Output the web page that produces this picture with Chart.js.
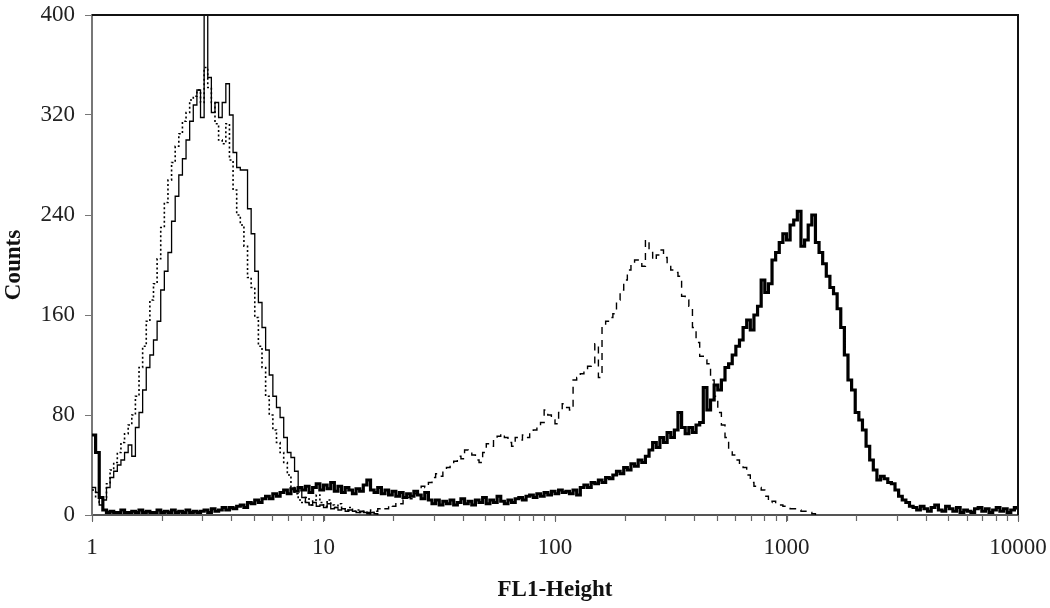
<!DOCTYPE html>
<html>
<head>
<meta charset="utf-8">
<script src="https://cdn.jsdelivr.net/npm/chart.js@4.4.0/dist/chart.umd.min.js"></script>
<style>
  html, body { margin: 0; padding: 0; background: #fff; }
  #wrap { width: 1050px; height: 608px; }
</style>
</head>
<body>
<div id="wrap"><canvas id="myChart"></canvas></div>
<script>
// log-amplified channels, 64 per decade, channel 0 = 1
const channelsPerDecade = 64;
const xTickLabels = [1, 10, 100, 1000, 10000];
const yTickLabels = [0, 80, 160, 240, 320, 400];

// thick solid (stained sample), channels 0..256
const thickCounts = [64,50,14,4,2,3,2,2,4,2,
  2,3,2,4,2,3,2,2,4,2,
  3,2,4,2,3,2,4,2,3,2,
  3,4,2,5,3,4,6,4,6,5,
  7,8,6,10,9,12,10,13,15,13,
  17,15,18,20,17,21,19,22,20,23,
  18,22,25,20,24,21,26,19,23,18,
  22,20,17,21,19,24,28,20,18,22,
  17,20,16,19,15,18,14,17,15,19,
  16,13,18,12,9,12,8,11,9,12,
  8,10,13,9,11,8,12,10,14,9,
  12,10,15,11,9,12,10,13,14,12,
  15,16,14,17,15,18,16,19,17,20,
  18,19,17,20,16,22,24,22,26,25,
  28,26,30,29,32,35,33,38,36,41,
  39,44,42,47,52,58,54,62,58,66,
  62,68,82,70,65,70,66,72,74,102,
  84,92,104,100,108,118,121,128,135,140,
  150,156,148,160,167,188,178,185,204,210,
  218,225,220,232,236,243,215,220,232,240,
  218,210,201,191,182,177,165,150,128,108,
  100,82,76,68,55,44,36,28,31,29,
  26,25,20,15,12,10,7,6,4,7,
  5,3,6,8,4,3,7,5,3,6,
  2,4,3,2,5,6,3,5,2,4,
  6,3,5,2,4,6,4];
const thickStart = 0;

// thin solid control, channels 0..79
const solidCounts = [22,18,8,12,22,30,35,40,44,50,
  56,47,70,82,100,118,128,140,155,180,
  195,210,235,255,272,285,300,315,328,340,
  318,400,350,322,330,318,330,345,320,290,
  278,276,276,245,225,195,170,150,132,112,
  95,86,78,62,50,46,35,22,14,10,
  8,10,7,8,6,9,5,6,4,5,
  3,4,3,2,3,2,1,2,1,0];
const solidStart = 0;

// dotted control, channels 0..79
const dottedCounts = [20,14,10,14,25,36,42,50,58,65,
  72,80,95,118,135,155,172,185,205,230,
  250,268,282,295,305,315,322,332,335,340,
  330,358,342,330,313,300,297,313,284,260,
  240,232,215,190,182,158,135,118,95,80,
  68,58,50,42,32,22,17,12,10,14,
  8,12,16,10,7,12,8,6,9,5,
  4,6,3,4,2,3,1,2,1,0];
const dottedStart = 0;

// dashed sample, channels 76..200
const dashedCounts = [2,4,3,5,6,5,8,7,10,9,
  12,14,13,17,20,23,22,26,30,33,
  31,36,38,40,43,47,45,52,50,48,
  44,42,50,57,55,60,63,65,62,58,
  55,62,60,64,62,66,68,70,74,84,
  80,76,73,82,89,86,84,108,110,113,
  116,119,121,137,110,151,155,158,161,172,
  180,188,196,200,204,202,199,220,210,204,
  208,212,206,200,196,194,191,175,172,167,
  150,138,127,124,121,108,95,82,72,62,
  52,48,44,40,38,32,26,23,22,20,
  15,10,11,9,8,7,6,5,5,4,
  3,3,2,1,0];
const dashedStart = 76;

function toPoints(counts, start) {
  return counts.map((c, i) => ({ x: Math.pow(10, (start + i) / channelsPerDecade), y: c }));
}

// tick marks at 1..9 of every decade, labels only on the decades
function logTickMarks() {
  const marks = [];
  for (let d = 0; d < xTickLabels.length - 1; d++) {
    for (let m = 1; m < 10; m++) marks.push({ value: m * xTickLabels[d] });
  }
  marks.push({ value: xTickLabels[xTickLabels.length - 1] });
  return marks;
}

const serif = "'Liberation Serif', 'Times New Roman', serif";

// box round the plot plus the small log tick marks under the x axis
const frame = {
  id: 'frame',
  afterDatasetsDraw(chart) {
    const { ctx, chartArea: a } = chart;
    const xs = chart.scales.x;
    ctx.save();
    ctx.strokeStyle = '#666';
    ctx.lineWidth = 1.2;
    ctx.beginPath();
    logTickMarks().forEach(t => {
      const px = Math.round(xs.getPixelForValue(t.value)) + 0.5;
      ctx.moveTo(px, a.bottom);
      ctx.lineTo(px, a.bottom + 6);
    });
    ctx.stroke();
    ctx.strokeStyle = '#111';
    ctx.lineWidth = 2;
    ctx.beginPath();
    ctx.moveTo(a.left, a.top);
    ctx.lineTo(a.right, a.top);
    ctx.lineTo(a.right, a.bottom);
    ctx.stroke();
    ctx.restore();
  }
};

const ctx = document.getElementById('myChart');

new Chart(ctx, {
  type: 'line',
  data: {
    datasets: [
      {
        label: 'stained',
        data: toPoints(thickCounts, thickStart),
        borderColor: '#000',
        borderWidth: 3.2,
        stepped: true,
        pointRadius: 0
      },
      {
        label: 'control',
        data: toPoints(solidCounts, solidStart),
        borderColor: '#000',
        borderWidth: 1.3,
        stepped: true,
        pointRadius: 0
      },
      {
        label: 'control 2',
        data: toPoints(dottedCounts, dottedStart),
        borderColor: '#000',
        borderWidth: 1.6,
        borderDash: [2, 2.5],
        stepped: true,
        pointRadius: 0
      },
      {
        label: 'sample 2',
        data: toPoints(dashedCounts, dashedStart),
        borderColor: '#000',
        borderWidth: 1.4,
        borderDash: [7, 6],
        stepped: true,
        pointRadius: 0
      }
    ]
  },
  options: {
    responsive: true,
    maintainAspectRatio: false,
    animation: false,
    layout: { padding: { top: 15, right: 32, left: 0, bottom: 0 } },
    plugins: {
      legend: { display: false },
      tooltip: { enabled: false }
    },
    scales: {
      x: {
        type: 'logarithmic',
        min: 1,
        max: 10000,
        afterFit: s => { s.height = 93; s.paddingLeft = 0; s.paddingRight = 0; },
        afterBuildTicks: s => { s.ticks = xTickLabels.map(v => ({ value: v })); },
        ticks: {
          autoSkip: false,
          maxRotation: 0,
          padding: 12,
          color: '#222',
          font: { family: serif, size: 23 },
          callback: v => String(v)
        },
        grid: { drawOnChartArea: false, drawTicks: true, tickLength: 7, color: '#666' },
        border: { color: '#555', width: 2 },
        title: {
          display: true,
          text: 'FL1-Height',
          color: '#111',
          font: { family: serif, size: 23, weight: 'bold' },
          padding: { top: 4, bottom: 4 }
        }
      },
      y: {
        min: 0,
        max: 400,
        afterFit: s => { s.width = 92; s.paddingTop = 0; s.paddingBottom = 0; },
        afterBuildTicks: s => { s.ticks = yTickLabels.map(v => ({ value: v })); },
        ticks: {
          padding: 10,
          color: '#222',
          font: { family: serif, size: 23 }
        },
        grid: { drawOnChartArea: false, drawTicks: true, tickLength: 7, color: '#777' },
        border: { color: '#777', width: 2 },
        title: {
          display: true,
          text: 'Counts',
          color: '#111',
          font: { family: serif, size: 23, weight: 'bold' },
          padding: { top: 0, bottom: 0 }
        }
      }
    }
  },
  plugins: [frame]
});
</script>
</body>
</html>
